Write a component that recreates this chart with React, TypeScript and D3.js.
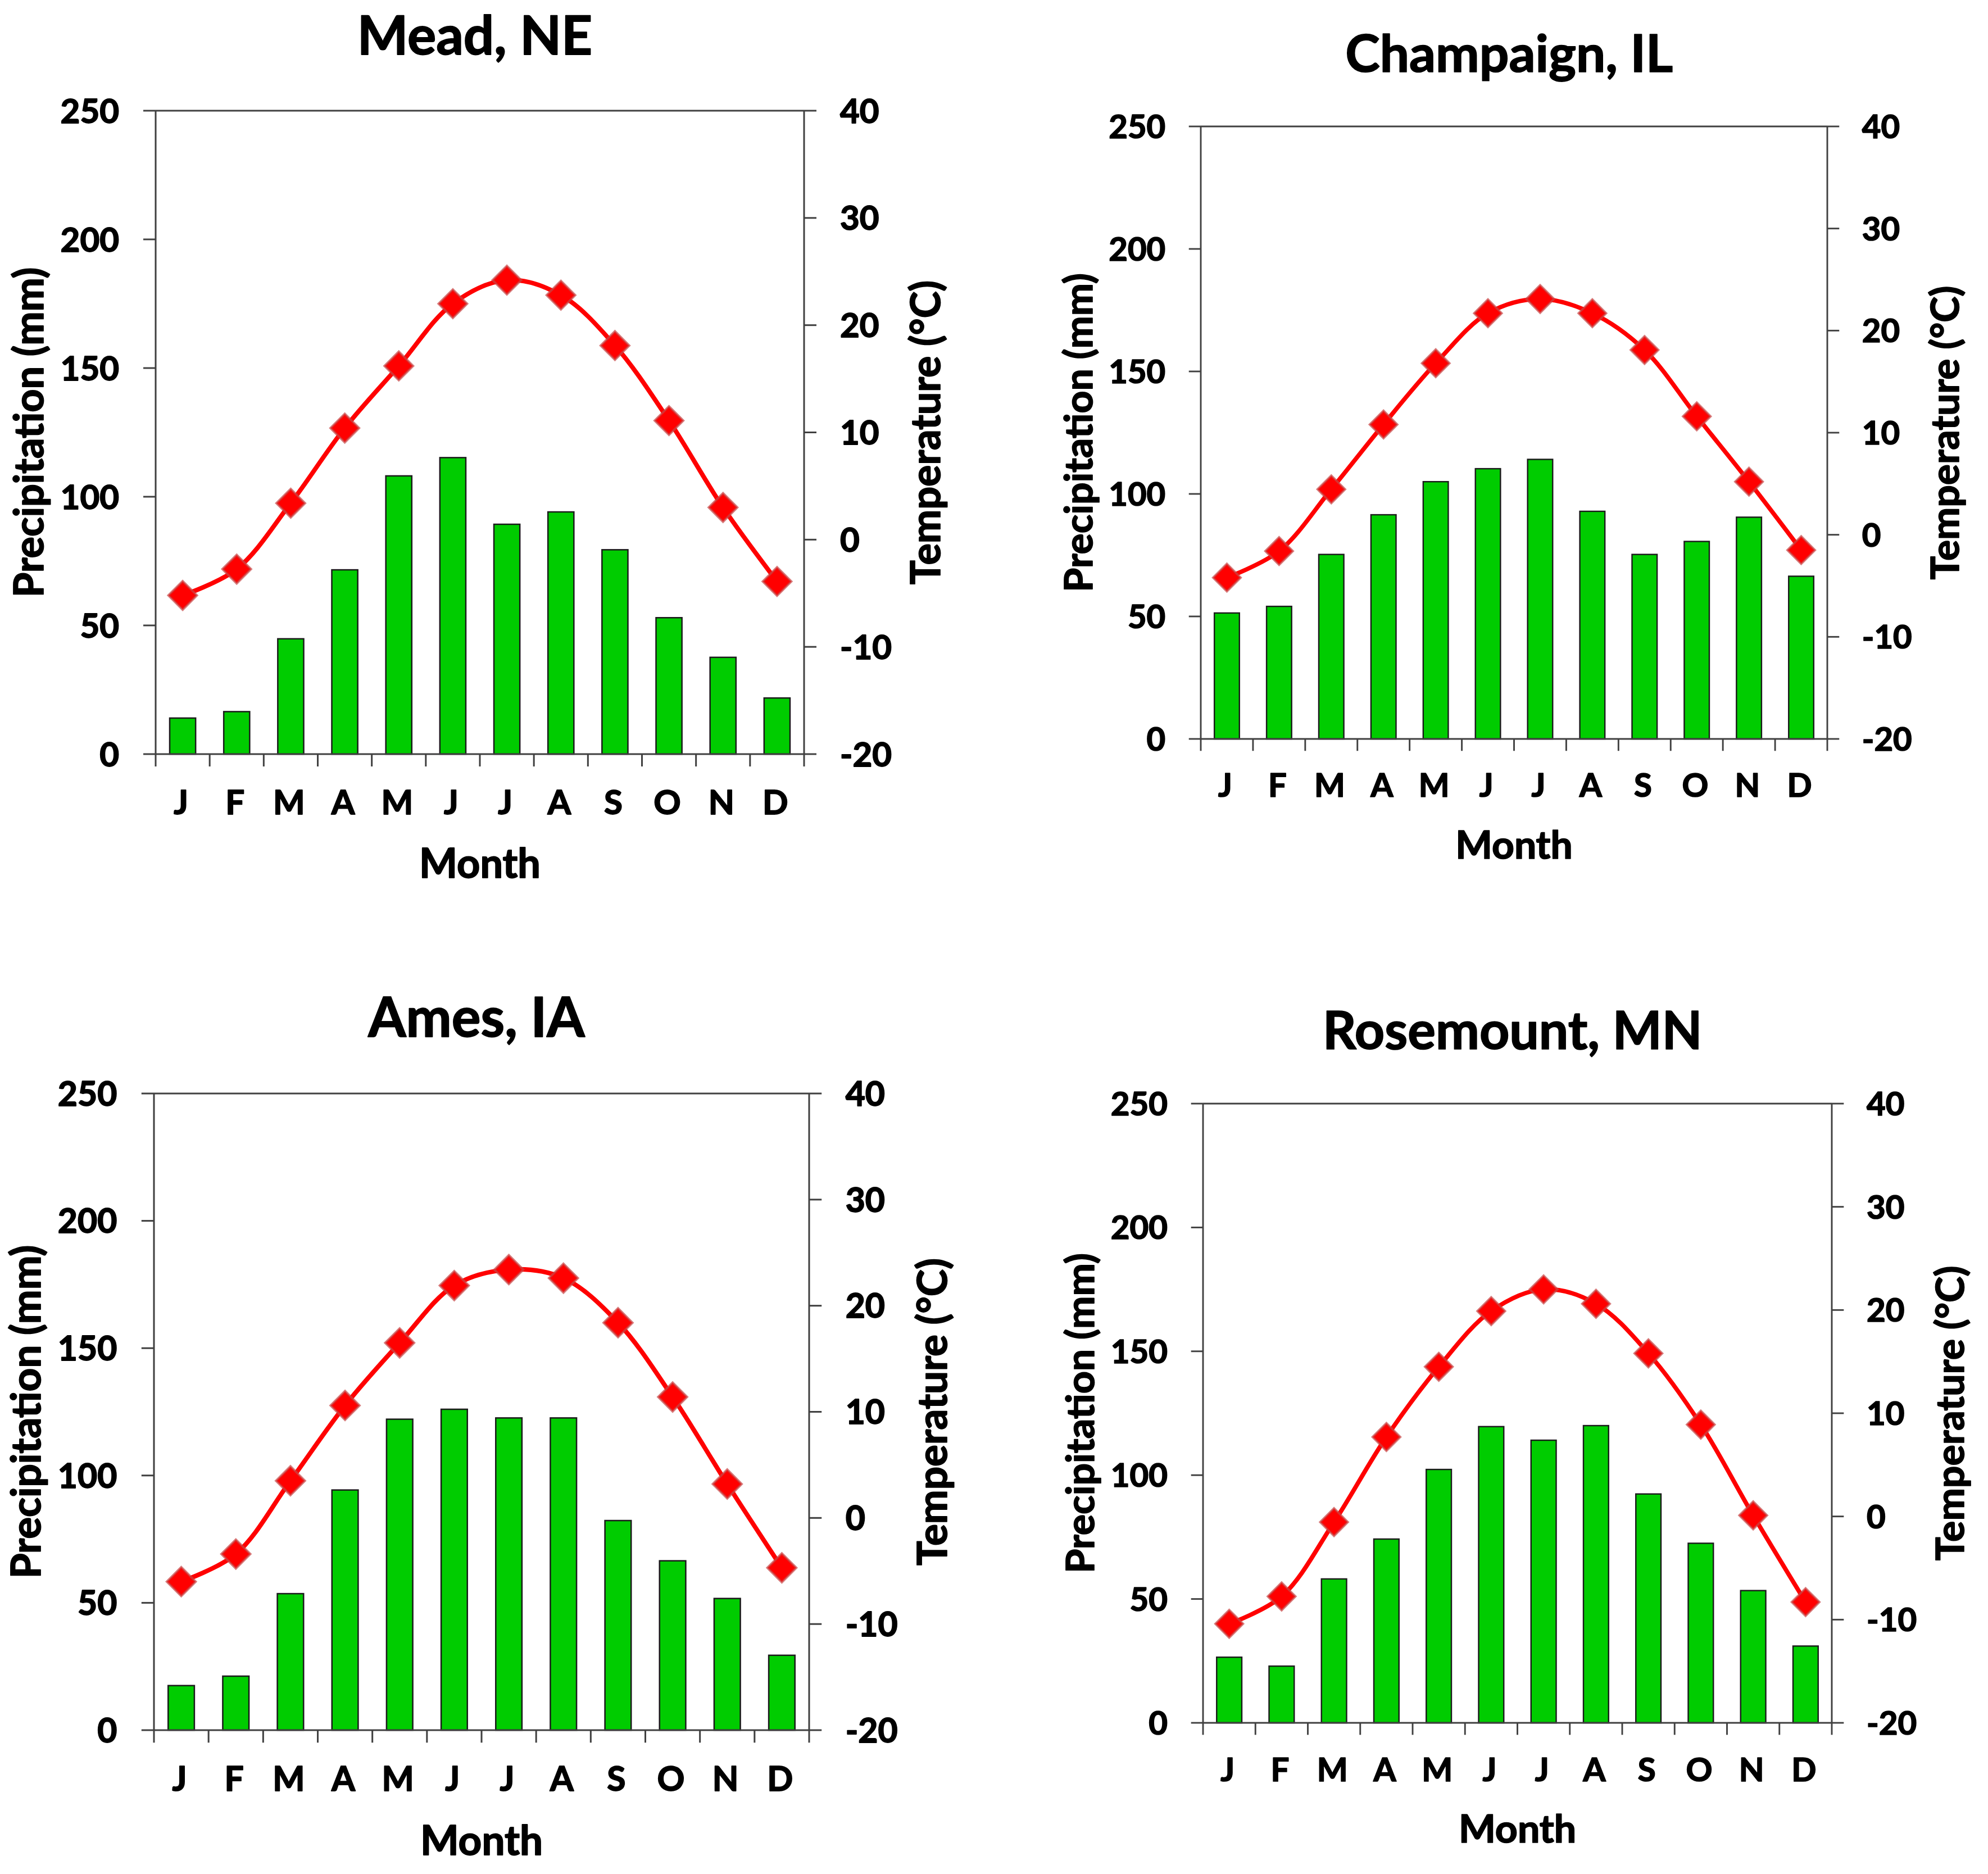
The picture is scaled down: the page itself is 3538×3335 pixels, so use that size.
import React from 'react';
import * as d3 from 'd3';

// ─── data ──────────────────────────────────────────────────────

const MONTHS = ['J', 'F', 'M', 'A', 'M', 'J', 'J', 'A', 'S', 'O', 'N', 'D'];
const PRECIP_TICKS = [0, 50, 100, 150, 200, 250];
const TEMP_TICKS = [-20, -10, 0, 10, 20, 30, 40];

const SITES = ['Mead, NE', 'Champaign, IL', 'Ames, IA', 'Rosemount, MN'];

const MEAD_PRECIP = [14.0, 16.5, 44.8, 71.6, 108.1, 115.2, 89.3, 94.1, 79.4, 53.0, 37.6, 21.8];
const MEAD_TEMP = [-5.2, -2.75, 3.4, 10.4, 16.2, 22.0, 24.2, 22.8, 18.1, 11.1, 3.0, -3.9];

const CHAMPAIGN_PRECIP = [51.4, 54.1, 75.3, 91.5, 105.0, 110.3, 114.1, 92.9, 75.3, 80.6, 90.5, 66.4];
const CHAMPAIGN_TEMP = [-4.2, -1.6, 4.45, 10.8, 16.8, 21.7, 23.1, 21.7, 18.1, 11.6, 5.2, -1.5];

const AMES_PRECIP = [17.5, 21.2, 53.6, 94.3, 122.1, 126.0, 122.6, 122.6, 82.3, 66.5, 51.7, 29.4];
const AMES_TEMP = [-6.0, -3.4, 3.5, 10.6, 16.5, 21.9, 23.4, 22.6, 18.4, 11.4, 3.2, -4.7];

const ROSEMOUNT_PRECIP = [26.5, 22.9, 58.1, 74.2, 102.3, 119.6, 114.1, 120.0, 92.4, 72.5, 53.4, 31.0];
const ROSEMOUNT_TEMP = [-10.4, -7.75, -0.55, 7.7, 14.5, 19.9, 22.0, 20.6, 15.8, 8.9, 0.1, -8.3];

const PRECIP = [MEAD_PRECIP, CHAMPAIGN_PRECIP, AMES_PRECIP, ROSEMOUNT_PRECIP];
const TEMP = [MEAD_TEMP, CHAMPAIGN_TEMP, AMES_TEMP, ROSEMOUNT_TEMP];

// ─── layout: plot frame of each panel (px) ─────────────────────

const FRAMES = [
  { left: 277, top: 197, right: 1431, bottom: 1342 },
  { left: 2137, top: 225, right: 3252, bottom: 1315 },
  { left: 274, top: 1946, right: 1440, bottom: 3079 },
  { left: 2141, top: 1964, right: 3260, bottom: 3066 },
];

const W = 3538;
const H = 3335;
const FONT = "Lato, 'Open Sans', sans-serif";
const AXIS = '#404040';
const BAR = '#00cc00';
const LINE = '#ff0000';

// ─── one climate panel ─────────────────────────────────────────

const Panel: React.FC<{
  title: string;
  precip: number[];
  temp: number[];
  frame: { left: number; top: number; right: number; bottom: number };
}> = ({ title, precip, temp, frame }) => {
  const { left: L, top: T, right: R, bottom: B } = frame;
  const k = (R - L) / 1154;

  const x = d3.scaleBand<number>().domain(d3.range(12)).range([L, R]).padding(0);
  const yP = d3.scaleLinear().domain([0, 250]).range([B, T]);
  const yT = d3.scaleLinear().domain([-20, 40]).range([B, T]);
  const cx = (i: number) => (x(i) ?? 0) + x.bandwidth() / 2;

  const barW = x.bandwidth() * 0.48;
  const tickLen = 22 * k;
  const tickFs = 60 * k;
  const axisFs = 72 * k;
  const titleFs = 96 * k;
  const midX = (L + R) / 2;
  const midY = (T + B) / 2;

  const line = d3
    .line<number>()
    .x((_, i) => cx(i))
    .y((d) => yT(d))
    .curve(d3.curveCatmullRom.alpha(0.5));

  const marker = d3.symbol(d3.symbolSquare, 1300 * k * k)();
  const boundaries = d3.range(13).map((i) => (i < 12 ? x(i) ?? 0 : R));

  return (
    <g fontFamily={FONT} fontWeight={700} fill="#000">
      {/* bars */}
      {precip.map((v, i) => (
        <rect
          key={`b${i}`}
          x={cx(i) - barW / 2}
          y={yP(v)}
          width={barW}
          height={yP(0) - yP(v)}
          fill={BAR}
          stroke="#1a1a1a"
          strokeWidth={2.5 * k}
        />
      ))}

      {/* frame */}
      <g stroke={AXIS} strokeWidth={3 * k} fill="none">
        <line x1={L} x2={R} y1={T} y2={T} />
        <line x1={L} x2={R} y1={B} y2={B} />
        <line x1={L} x2={L} y1={T} y2={B} />
        <line x1={R} x2={R} y1={T} y2={B} />
        {PRECIP_TICKS.map((t) => (
          <line key={`lt${t}`} x1={L - tickLen} x2={L} y1={yP(t)} y2={yP(t)} />
        ))}
        {TEMP_TICKS.map((t) => (
          <line key={`rt${t}`} x1={R} x2={R + tickLen} y1={yT(t)} y2={yT(t)} />
        ))}
        {boundaries.map((bx, i) => (
          <line key={`xt${i}`} x1={bx} x2={bx} y1={B} y2={B + tickLen} />
        ))}
      </g>

      {/* temperature curve + markers */}
      <path d={line(temp) ?? ''} fill="none" stroke={LINE} strokeWidth={8 * k} />
      {temp.map((v, i) => (
        <path
          key={`m${i}`}
          d={marker ?? ''}
          transform={`translate(${cx(i)},${yT(v)}) rotate(45)`}
          fill={LINE}
          stroke="rgba(200,70,70,0.7)"
          strokeWidth={4 * k}
        />
      ))}

      {/* text: a thin stroke thickens Lato toward the heavier original face */}
      <g stroke="#000" strokeWidth={1.8 * k} strokeLinejoin="round">
        {PRECIP_TICKS.map((t) => (
          <text key={`ll${t}`} x={L - 65 * k} y={yP(t) + 0.36 * tickFs} textAnchor="end" fontSize={tickFs}>
            {t}
          </text>
        ))}
        {TEMP_TICKS.map((t) => (
          <text key={`rl${t}`} x={R + 64 * k} y={yT(t) + 0.36 * tickFs} textAnchor="start" fontSize={tickFs}>
            {t}
          </text>
        ))}
        {MONTHS.map((m, i) => (
          <text key={`xl${i}`} x={cx(i) - 3 * k} y={B + 107 * k} textAnchor="middle" fontSize={tickFs}>
            {m}
          </text>
        ))}

        {/* axis titles */}
        <text x={midX} y={B + 220 * k} textAnchor="middle" fontSize={axisFs}>
          Month
        </text>
        <text
          transform={`translate(${L - 200 * k},${midY}) rotate(-90)`}
          textAnchor="middle"
          fontSize={axisFs}
        >
          Precipitation (mm)
        </text>
        <text
          transform={`translate(${R + 242 * k},${midY}) rotate(-90)`}
          textAnchor="middle"
          fontSize={axisFs}
        >
          Temperature (°C)
        </text>

        {/* panel title */}
        <text x={midX - 9 * k} y={T - 100 * k} textAnchor="middle" fontSize={titleFs}>
          {title}
        </text>
      </g>
    </g>
  );
};

export default function App() {
  return (
    <svg
      width={W}
      height={H}
      viewBox={`0 0 ${W} ${H}`}
      style={{ position: 'absolute', left: 0, top: 0, display: 'block', background: '#fff' }}
    >
      <rect x={0} y={0} width={W} height={H} fill="#fff" />
      {SITES.map((s, i) => (
        <Panel key={s} title={s} precip={PRECIP[i]} temp={TEMP[i]} frame={FRAMES[i]} />
      ))}
    </svg>
  );
}
